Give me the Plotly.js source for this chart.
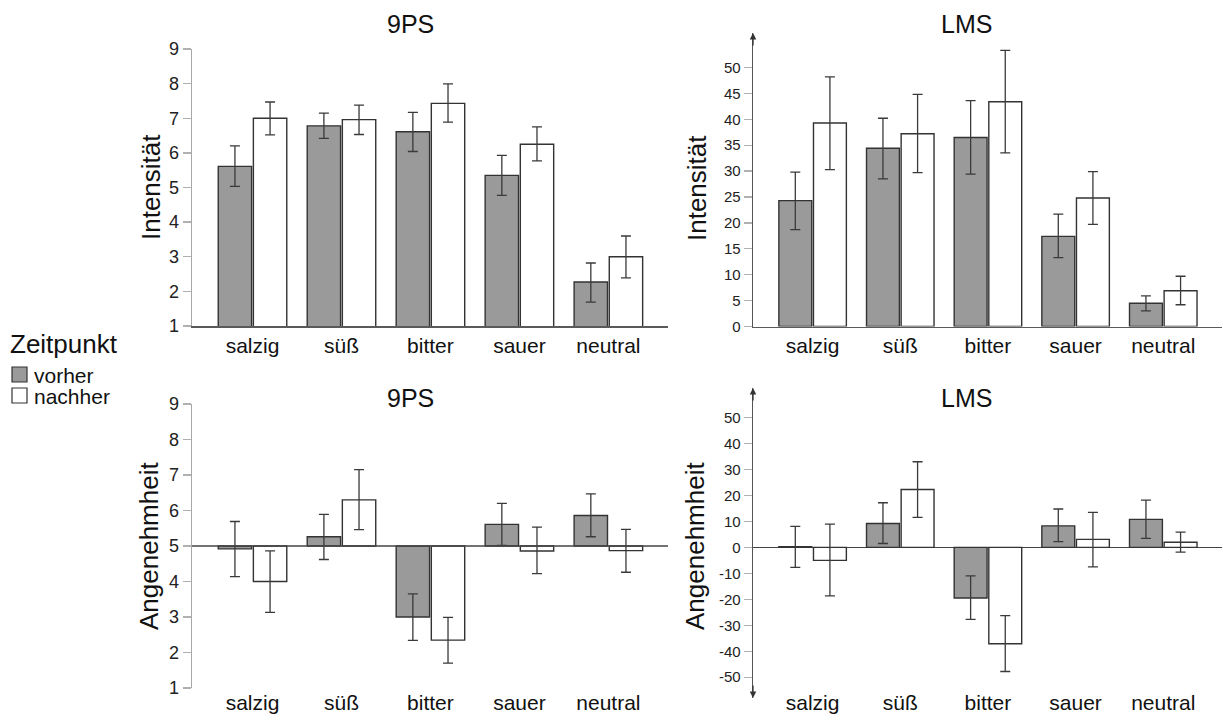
<!DOCTYPE html>
<html>
<head>
<meta charset="utf-8">
<script src="https://cdn.plot.ly/plotly-3.0.1.min.js"></script>
<style>
  html, body { margin: 0; padding: 0; background: #fff; }
  #chart { width: 1223px; height: 720px; }
</style>
</head>
<body>
<div id="chart"></div>
<script>
// Taste categories
const categories = ['salzig', 'süß', 'bitter', 'sauer', 'neutral'];
const groupNames = ['vorher', 'nachher'];

// Intensität, 9-Punkte-Skala (Mittelwert, obere und untere Grenze)
const int9Vorher   = [5.61, 6.78, 6.61, 5.35, 2.27];
const int9VorherHi = [6.20, 7.15, 7.17, 5.93, 2.82];
const int9VorherLo = [5.03, 6.42, 6.04, 4.77, 1.69];
const int9Nachher   = [7.00, 6.96, 7.43, 6.25, 3.00];
const int9NachherHi = [7.47, 7.38, 7.99, 6.75, 3.60];
const int9NachherLo = [6.52, 6.53, 6.89, 5.77, 2.39];

// Intensität, LMS
const intLmsVorher   = [24.3, 34.4, 36.5, 17.4, 4.5];
const intLmsVorherHi = [29.8, 40.2, 43.6, 21.7, 5.9];
const intLmsVorherLo = [18.7, 28.5, 29.4, 13.3, 3.0];
const intLmsNachher   = [39.3, 37.2, 43.4, 24.8, 6.9];
const intLmsNachherHi = [48.2, 44.8, 53.3, 29.9, 9.7];
const intLmsNachherLo = [30.3, 29.7, 33.5, 19.7, 4.2];

// Angenehmheit, 9-Punkte-Skala (neutral point = 5)
const ang9Vorher   = [4.92, 5.26, 3.00, 5.61, 5.86];
const ang9VorherHi = [5.69, 5.89, 3.65, 6.20, 6.47];
const ang9VorherLo = [4.14, 4.62, 2.34, 5.02, 5.26];
const ang9Nachher   = [4.00, 6.30, 2.35, 4.86, 4.87];
const ang9NachherHi = [4.86, 7.15, 2.99, 5.53, 5.47];
const ang9NachherLo = [3.13, 5.46, 1.70, 4.22, 4.26];

// Angenehmheit, LMS
const angLmsVorher   = [0.3, 9.2, -19.5, 8.3, 10.8];
const angLmsVorherHi = [8.1, 17.2, -11.0, 14.8, 18.2];
const angLmsVorherLo = [-7.7, 1.5, -27.7, 2.2, 3.5];
const angLmsNachher   = [-5.0, 22.3, -37.1, 3.1, 2.0];
const angLmsNachherHi = [9.0, 33.0, -26.3, 13.5, 5.9];
const angLmsNachherLo = [-18.7, 11.6, -47.8, -7.5, -1.8];

// Tick labels
const ticks9 = [1, 2, 3, 4, 5, 6, 7, 8, 9];
const ticksLmsInt = [0, 5, 10, 15, 20, 25, 30, 35, 40, 45, 50];
const ticksLmsAng = [-50, -40, -30, -20, -10, 0, 10, 20, 30, 40, 50];

// Styling
const FONT = 'Liberation Sans, Arial, Helvetica, sans-serif';
const fillVorher = '#9a9a9a';
const fillNachher = '#ffffff';
const edge = '#333333';
const errColor = '#3a3a3a';

function barTrace(name, fill, mean, hi, lo, xa, ya, base) {
  const b = base || 0;
  return {
    type: 'bar',
    name: name,
    x: categories,
    y: mean.map(v => v - b),
    base: b,
    xaxis: xa,
    yaxis: ya,
    marker: { color: fill, line: { color: edge, width: 1.4 } },
    error_y: {
      type: 'data',
      symmetric: false,
      array: hi.map((h, i) => h - mean[i]),
      arrayminus: lo.map((l, i) => mean[i] - l),
      color: errColor,
      thickness: 1.3,
      width: 5
    },
    showlegend: false,
    hoverinfo: 'x+name'
  };
}

const data = [
  barTrace(groupNames[0], fillVorher, int9Vorher, int9VorherHi, int9VorherLo, 'x', 'y'),
  barTrace(groupNames[1], fillNachher, int9Nachher, int9NachherHi, int9NachherLo, 'x', 'y'),
  barTrace(groupNames[0], fillVorher, intLmsVorher, intLmsVorherHi, intLmsVorherLo, 'x2', 'y2'),
  barTrace(groupNames[1], fillNachher, intLmsNachher, intLmsNachherHi, intLmsNachherLo, 'x2', 'y2'),
  barTrace(groupNames[0], fillVorher, ang9Vorher, ang9VorherHi, ang9VorherLo, 'x3', 'y3', 5),
  barTrace(groupNames[1], fillNachher, ang9Nachher, ang9NachherHi, ang9NachherLo, 'x3', 'y3', 5),
  barTrace(groupNames[0], fillVorher, angLmsVorher, angLmsVorherHi, angLmsVorherLo, 'x4', 'y4'),
  barTrace(groupNames[1], fillNachher, angLmsNachher, angLmsNachherHi, angLmsNachherLo, 'x4', 'y4')
];

const W = 1223, H = 720;
const px = v => v / W;          // horizontal pixel -> paper
const py = v => 1 - v / H;      // vertical pixel -> paper

const leftDom = [px(192), px(668)];
const rightDom = [px(753), px(1222)];

function catAxis(dom, anchor, showline, extra) {
  return Object.assign({
    domain: dom,
    anchor: anchor,
    type: 'category',
    range: [-0.68, 4.67],
    showline: showline,
    linecolor: '#5a5a5a',
    linewidth: 1.5,
    ticks: '',
    showgrid: false,
    zeroline: false,
    tickfont: { family: FONT, size: 21, color: '#111' },
    fixedrange: true
  }, extra || {});
}

function valAxis(dom, range, tickvals, fontSize, lineColor, extra) {
  return Object.assign({
    domain: dom,
    range: range,
    tickmode: 'array',
    tickvals: tickvals,
    ticktext: tickvals.map(String),
    ticks: 'outside',
    ticklen: 8,
    tickwidth: 1.3,
    tickcolor: '#b0b0b0',
    showline: true,
    linecolor: lineColor,
    linewidth: 1.4,
    showgrid: false,
    zeroline: false,
    tickfont: { family: FONT, size: fontSize, color: '#222' },
    fixedrange: true
  }, extra || {});
}

function label(text, x, y, size, extra) {
  return Object.assign({
    text: text, xref: 'paper', yref: 'paper', x: px(x), y: py(y),
    xanchor: 'center', yanchor: 'middle', showarrow: false,
    font: { family: FONT, size: size, color: '#111' }
  }, extra || {});
}

function axisArrow(xa, ya, yPos, dy) {
  return {
    text: '', xref: xa + ' domain', yref: ya + ' domain', x: 0, y: yPos,
    ax: 0, ay: dy, showarrow: true, arrowhead: 2, arrowsize: 1,
    arrowwidth: 1.3, arrowcolor: '#333', standoff: 0
  };
}

const layout = {
  width: W,
  height: H,
  margin: { l: 0, r: 0, t: 0, b: 0 },
  paper_bgcolor: '#fff',
  plot_bgcolor: 'rgba(0,0,0,0)',
  barmode: 'group',
  bargap: 0.21,
  bargroupgap: 0.05,
  showlegend: false,
  font: { family: FONT, color: '#111' },

  xaxis: catAxis(leftDom, 'y', true),
  yaxis: valAxis([py(326), py(49)], [1, 9], ticks9, 18, '#a8a8a8', { anchor: 'x' }),

  xaxis2: catAxis(rightDom, 'y2', true),
  yaxis2: valAxis([py(326.5), py(33)], [0, 56.66], ticksLmsInt, 15, '#555', { anchor: 'x2' }),

  xaxis3: catAxis(leftDom, 'y3', false),
  yaxis3: valAxis([py(688), py(404)], [1, 9], ticks9, 18, '#a8a8a8', { anchor: 'x3' }),

  xaxis4: catAxis(rightDom, 'free', false, { position: py(688) }),
  yaxis4: valAxis([py(698), py(388)], [-58, 61.4], ticksLmsAng, 15, '#555', {
    anchor: 'x4', zeroline: true, zerolinecolor: '#444', zerolinewidth: 1.4
  }),

  shapes: [
    // reference line at the scale midpoint of the 9PS pleasantness rating
    { type: 'line', xref: 'x3 domain', yref: 'y3', x0: 0, x1: 1, y0: 5, y1: 5,
      line: { color: '#444', width: 1.4 } },
    // legend swatches
    { type: 'rect', xref: 'paper', yref: 'paper', x0: px(12), x1: px(27), y0: py(382), y1: py(367),
      fillcolor: fillVorher, line: { color: edge, width: 1.2 } },
    { type: 'rect', xref: 'paper', yref: 'paper', x0: px(12), x1: px(27), y0: py(403), y1: py(388),
      fillcolor: fillNachher, line: { color: edge, width: 1.2 } }
  ],

  annotations: [
    label('9PS', 410, 24, 25),
    label('LMS', 966, 24, 25),
    label('9PS', 410, 398, 25),
    label('LMS', 966, 398, 25),
    label('Intensität', 151, 187, 26, { textangle: -90 }),
    label('Intensität', 697, 188, 26, { textangle: -90 }),
    label('Angenehmheit', 149, 546, 26, { textangle: -90 }),
    label('Angenehmheit', 695, 546, 26, { textangle: -90 }),
    label('Zeitpunkt', 8, 344, 26, { xanchor: 'left' }),
    label(groupNames[0], 32, 375, 21, { xanchor: 'left' }),
    label(groupNames[1], 32, 396, 21, { xanchor: 'left' }),
    axisArrow('x2', 'y2', 1, 14),
    axisArrow('x4', 'y4', 1, 14),
    axisArrow('x4', 'y4', 0, -14)
  ]
};

Plotly.newPlot('chart', data, layout, { displayModeBar: false, staticPlot: true });
</script>
</body>
</html>
